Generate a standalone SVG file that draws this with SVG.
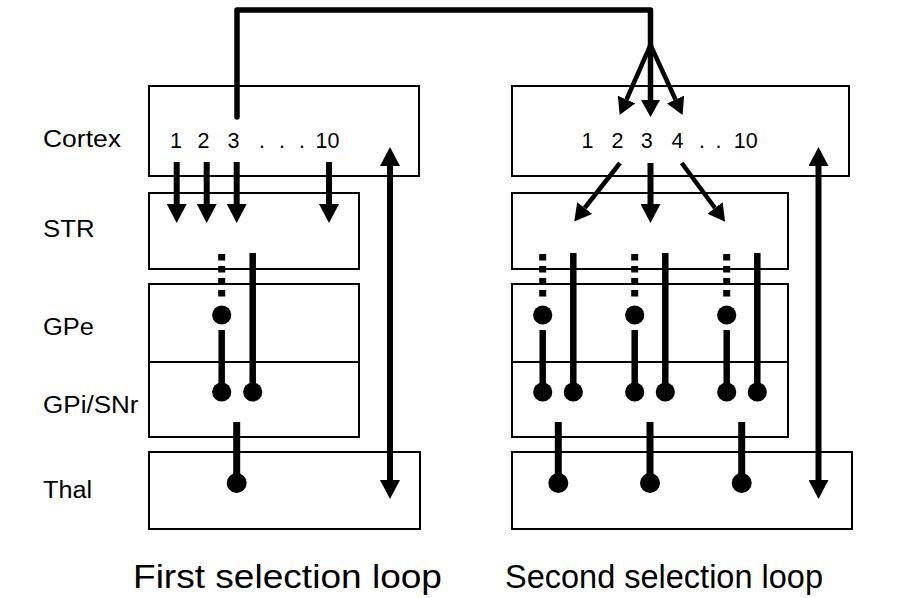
<svg xmlns="http://www.w3.org/2000/svg" width="910" height="598" viewBox="0 0 910 598">
<style>
.box{fill:none;stroke:#000;stroke-width:2}
.lbl{font-family:"Liberation Sans",Arial,sans-serif;font-size:23px;fill:#000}
.num{font-family:"Liberation Sans",Arial,sans-serif;font-size:21.5px;fill:#000;text-anchor:middle}
.ttl{font-family:"Liberation Sans",Arial,sans-serif;font-size:34px;fill:#000}
.ex{fill:none;stroke:#000;stroke-width:6;marker-end:url(#ah)}
.exd{fill:none;stroke:#000;stroke-width:4.5;marker-end:url(#ahd)}
.bi{fill:none;stroke:#000;stroke-width:6;marker-end:url(#ah);marker-start:url(#ahs)}
.inh{fill:none;stroke:#000;stroke-width:6.5}
.dot{fill:none;stroke:#000;stroke-width:7;stroke-dasharray:6.5 5.5}
.th{fill:none;stroke:#000;stroke-width:7}
.knob{fill:#000}
</style>
<defs>
<marker id="ah" viewBox="0 0 19 20" refX="0" refY="10" markerWidth="19" markerHeight="20" markerUnits="userSpaceOnUse" orient="auto"><path d="M0,0 L19,10 L0,20 z" fill="#000"/></marker>
<marker id="ahs" viewBox="0 0 19 20" refX="0" refY="10" markerWidth="19" markerHeight="20" markerUnits="userSpaceOnUse" orient="auto-start-reverse"><path d="M0,0 L19,10 L0,20 z" fill="#000"/></marker>
<marker id="ahd" viewBox="0 0 17 19" refX="0" refY="9.5" markerWidth="17" markerHeight="19" markerUnits="userSpaceOnUse" orient="auto"><path d="M0,0 L17,9.5 L0,19 z" fill="#000"/></marker>
</defs>

<g id="labels">
<text class="lbl" x="43" y="147" textLength="78" lengthAdjust="spacingAndGlyphs">Cortex</text>
<text class="lbl" x="43" y="237" textLength="51.5" lengthAdjust="spacingAndGlyphs">STR</text>
<text class="lbl" x="43" y="335" textLength="51" lengthAdjust="spacingAndGlyphs">GPe</text>
<text class="lbl" x="43" y="413" textLength="95.5" lengthAdjust="spacingAndGlyphs">GPi/SNr</text>
<text class="lbl" x="43" y="498" textLength="49" lengthAdjust="spacingAndGlyphs">Thal</text>
</g>

<g id="loop1">
<g id="cortex1"><rect class="box" x="149" y="86" width="270" height="90"/>
<text class="num" x="176" y="148">1</text><text class="num" x="203.5" y="148">2</text><text class="num" x="233.5" y="148">3</text>
<text class="num" x="262" y="148">.</text><text class="num" x="282" y="148">.</text><text class="num" x="302" y="148">.</text>
<text class="num" x="327.5" y="148">10</text></g>
<g id="str1"><rect class="box" x="149" y="193" width="210" height="76"/></g>
<g id="gpe1"><rect class="box" x="149" y="284" width="210" height="78"/></g>
<g id="gpi1"><rect class="box" x="149" y="362" width="210" height="75"/></g>
<g id="thal1"><rect class="box" x="149" y="452" width="271" height="77"/></g>
</g>

<g id="loop2">
<g id="cortex2"><rect class="box" x="512" y="86" width="337" height="90"/>
<text class="num" x="587.5" y="148">1</text><text class="num" x="617.5" y="148">2</text><text class="num" x="646.7" y="148">3</text><text class="num" x="677.5" y="148">4</text>
<text class="num" x="702" y="148">.</text><text class="num" x="718.5" y="148">.</text>
<text class="num" x="745.8" y="148">10</text></g>
<g id="str2"><rect class="box" x="512" y="193" width="276" height="76"/></g>
<g id="gpe2"><rect class="box" x="512" y="284" width="276" height="78"/></g>
<g id="gpi2"><rect class="box" x="512" y="362" width="276" height="75"/></g>
<g id="thal2"><rect class="box" x="512" y="452" width="340" height="77"/></g>
</g>

<g id="connectors">
<path d="M237,117 V10 H650.5 V100" fill="none" stroke="#000" stroke-width="5.5" stroke-linecap="round" stroke-linejoin="round" marker-end="url(#ahd)"/>
<path class="exd" d="M650.5,45 L626.5,99.5"/>
<path class="exd" d="M650.5,45 L675.5,99.5"/>

<path class="ex" d="M176.7,162 V204"/>
<path class="ex" d="M206.7,162 V204"/>
<path class="ex" d="M236.7,162 V204"/>
<path class="ex" d="M329,162 V204"/>
<path class="bi" d="M390,166 V480"/>
<path class="bi" d="M818.5,166 V480"/>

<path class="exd" d="M620,163 L584.7,208"/>
<path class="ex" d="M650.5,163 V204"/>
<path class="exd" d="M681.7,163 L715,208"/>

<path class="dot" d="M221.7,254 V297"/>
<circle class="knob" cx="221.7" cy="315" r="9.6"/>
<path class="inh" d="M221.7,330 V392"/>
<circle class="knob" cx="221.7" cy="392" r="9.6"/>
<path class="inh" d="M252.7,253 V392"/>
<circle class="knob" cx="252.7" cy="392" r="9.6"/>
<path class="th" d="M236.7,422 V483"/>
<circle class="knob" cx="236.7" cy="483" r="10"/>

<path class="dot" d="M542.7,254 V297"/>
<circle class="knob" cx="542.7" cy="315" r="9.6"/>
<path class="inh" d="M542.7,330 V392"/>
<circle class="knob" cx="542.7" cy="392" r="9.6"/>
<path class="inh" d="M573.3,253 V392"/>
<circle class="knob" cx="573.3" cy="392" r="9.6"/>

<path class="dot" d="M634.7,254 V297"/>
<circle class="knob" cx="634.7" cy="315" r="9.6"/>
<path class="inh" d="M634.7,330 V392"/>
<circle class="knob" cx="634.7" cy="392" r="9.6"/>
<path class="inh" d="M665.3,253 V392"/>
<circle class="knob" cx="665.3" cy="392" r="9.6"/>

<path class="dot" d="M726.7,254 V297"/>
<circle class="knob" cx="726.7" cy="315" r="9.6"/>
<path class="inh" d="M726.7,330 V392"/>
<circle class="knob" cx="726.7" cy="392" r="9.6"/>
<path class="inh" d="M757.3,253 V392"/>
<circle class="knob" cx="757.3" cy="392" r="9.6"/>

<path class="th" d="M558.3,422 V483"/>
<circle class="knob" cx="558.3" cy="483" r="10"/>
<path class="th" d="M650,422 V483"/>
<circle class="knob" cx="650" cy="483" r="10"/>
<path class="th" d="M741.7,422 V483"/>
<circle class="knob" cx="741.7" cy="483" r="10"/>
</g>

<g id="titles">
<text class="ttl" x="133" y="588" textLength="309" lengthAdjust="spacingAndGlyphs">First selection loop</text>
<text class="ttl" x="505" y="588" textLength="318" lengthAdjust="spacingAndGlyphs">Second selection loop</text>
</g>
</svg>
